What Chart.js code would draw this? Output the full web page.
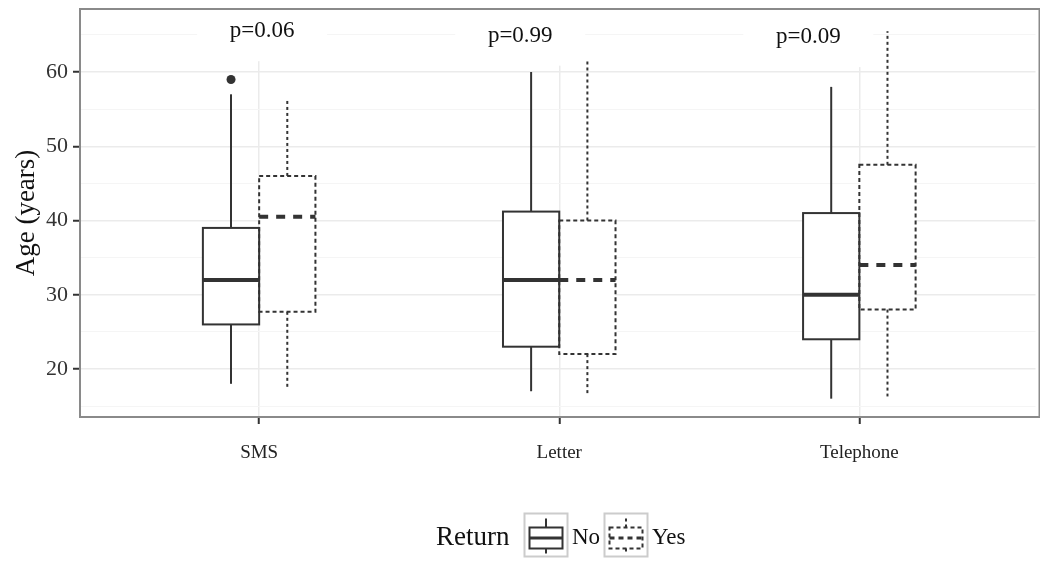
<!DOCTYPE html>
<html>
<head>
<meta charset="utf-8">
<script src="https://cdn.jsdelivr.net/npm/chart.js@4.4.0/dist/chart.umd.min.js"></script>
<style>
	html, body { margin: 0; padding: 0; background: #fff; overflow: hidden; }
	#wrap { width: 1040px; height: 564px; }
</style>
</head>
<body>
<div id="wrap"><canvas id="chart" width="1040" height="564"></canvas></div>
<script>
// Age by reminder type, split by whether the patient returned
const categories = ['SMS', 'Letter', 'Telephone'];
const groups = ['No', 'Yes'];

// Return = No
const noMin = [18, 17, 16];
const noQ1 = [26, 23, 24];
const noMedian = [32, 32, 30];
const noQ3 = [39, 41.2, 41];
const noMax = [57, 60, 58];
const noOutliers = [[59], [], []];

// Return = Yes
const yesMin = [17.2, 16.4, 16.3];
const yesQ1 = [27.7, 22, 28];
const yesMedian = [40.5, 32, 34];
const yesQ3 = [46, 40, 47.5];
const yesMax = [56.5, 61.8, 65.5];
const yesOutliers = [[], [], []];

const pLabels = ['p=0.06', 'p=0.99', 'p=0.09'];
const pLabelX = [1.01, 1.87, 2.83];
const pLabelY = [65.5, 64.9, 64.7];

const xTicks = [1, 2, 3];
const yTicks = [15, 20, 25, 30, 35, 40, 45, 50, 55, 60, 65];

(function(){
	const serif = "'Liberation Serif', 'Times New Roman', serif";
	const ink = '#333333';
	const dodge = 0.09375; // half of the dodged pair, in category units

	Chart.defaults.font.family = serif;

	const stats = [
		{ min: noMin, q1: noQ1, med: noMedian, q3: noQ3, max: noMax, dashed: false, shift: -dodge },
		{ min: yesMin, q1: yesQ1, med: yesMedian, q3: yesQ3, max: yesMax, dashed: true, shift: dodge }
	];

	const outlierPoints = [];
	[noOutliers, yesOutliers].forEach((set, g) => {
		set.forEach((vals, i) => vals.forEach(v => outlierPoints.push({ x: xTicks[i] + stats[g].shift, y: v })));
	});

	function line(ctx, x1, y1, x2, y2){
		ctx.beginPath(); ctx.moveTo(x1, y1); ctx.lineTo(x2, y2); ctx.stroke();
	}

	function drawBoxes(chart){
		const { ctx, scales: { x, y } } = chart;
		ctx.save();
		// white fills first so shared edges stay visible
		stats.forEach(s => {
			categories.forEach((_, i) => {
				const cx = xTicks[i] + s.shift;
				const l = x.getPixelForValue(cx - dodge), r = x.getPixelForValue(cx + dodge);
				const top = y.getPixelForValue(s.q3[i]), bot = y.getPixelForValue(s.q1[i]);
				ctx.fillStyle = '#fff';
				ctx.fillRect(l, top, r - l, bot - top);
			});
		});
		ctx.strokeStyle = ink;
		stats.forEach(s => {
			categories.forEach((_, i) => {
				const cx = xTicks[i] + s.shift;
				const l = x.getPixelForValue(cx - dodge), r = x.getPixelForValue(cx + dodge), m = x.getPixelForValue(cx);
				const yMin = y.getPixelForValue(s.min[i]), yQ1 = y.getPixelForValue(s.q1[i]);
				const yMed = y.getPixelForValue(s.med[i]), yQ3 = y.getPixelForValue(s.q3[i]);
				const yMax = y.getPixelForValue(s.max[i]);
				ctx.lineWidth = 2;
				ctx.setLineDash(s.dashed ? [3, 3] : []);
				line(ctx, m, yQ3, m, yMax);
				line(ctx, m, yQ1, m, yMin);
				ctx.setLineDash(s.dashed ? [4, 3] : []);
				ctx.strokeRect(l, yQ3, r - l, yQ1 - yQ3);
				ctx.lineWidth = 4;
				ctx.setLineDash(s.dashed ? [9, 8] : []);
				line(ctx, l, yMed, r, yMed);
			});
		});
		ctx.restore();
	}

	function drawPLabels(chart){
		const { ctx, chartArea: a, scales: { x, y } } = chart;
		ctx.save();
		ctx.beginPath(); ctx.rect(a.left, a.top, a.right - a.left, a.bottom - a.top); ctx.clip();
		ctx.font = `23px ${serif}`;
		ctx.textAlign = 'center';
		ctx.textBaseline = 'middle';
		pLabels.forEach((t, i) => {
			const px = x.getPixelForValue(pLabelX[i]), py = y.getPixelForValue(pLabelY[i]);
			ctx.fillStyle = '#fff';
			ctx.fillRect(px - 65, py - 30, 130, 60);
			ctx.fillStyle = '#111';
			ctx.fillText(t, px, py);
		});
		ctx.restore();
	}

	function legendKey(ctx, left, top, dashed){
		ctx.save();
		ctx.strokeStyle = '#cccccc'; ctx.lineWidth = 2; ctx.setLineDash([]);
		ctx.strokeRect(left, top, 43, 43);
		ctx.strokeStyle = ink; ctx.lineWidth = 2;
		const m = left + 21.5;
		ctx.setLineDash(dashed ? [3, 3] : []);
		line(ctx, m, top + 5, m, top + 14);
		line(ctx, m, top + 35, m, top + 40);
		ctx.setLineDash(dashed ? [4, 3] : []);
		ctx.strokeRect(left + 5, top + 14, 33, 21);
		ctx.lineWidth = 3;
		ctx.setLineDash(dashed ? [5, 4] : []);
		line(ctx, left + 5, top + 24.5, left + 38, top + 24.5);
		ctx.restore();
	}

	function drawLegend(chart){
		const ctx = chart.ctx;
		ctx.save();
		ctx.fillStyle = '#111';
		ctx.textBaseline = 'middle';
		ctx.textAlign = 'left';
		ctx.font = `27px ${serif}`;
		ctx.fillText('Return', 436, 538);
		legendKey(ctx, 524.5, 513.5, false);
		ctx.font = `23px ${serif}`;
		ctx.fillText(groups[0], 572, 538);
		legendKey(ctx, 604.5, 513.5, true);
		ctx.fillText(groups[1], 652, 538);
		ctx.restore();
	}

	const boxPlugin = {
		id: 'boxes',
		beforeDatasetsDraw(chart){ drawPLabels(chart); drawBoxes(chart); },
		afterDraw(chart){
			const { ctx, chartArea: a } = chart;
			ctx.save();
			ctx.strokeStyle = '#8a8a8a'; ctx.lineWidth = 2;
			ctx.strokeRect(a.left, a.top, a.right - a.left + 4, a.bottom - a.top);
			ctx.restore();
			drawLegend(chart);
		}
	};

	new Chart(document.getElementById('chart'), {
		type: 'scatter',
		data: {
			datasets: [{
				label: 'Outliers',
				data: outlierPoints,
				pointRadius: 4.5,
				pointBackgroundColor: ink,
				pointBorderWidth: 0
			}]
		},
		options: {
			responsive: false,
			animation: false,
			devicePixelRatio: 1,
			layout: { padding: { top: 9, left: 0, right: 0, bottom: 0 } },
			plugins: { legend: { display: false }, tooltip: { enabled: false } },
			scales: {
				x: {
					type: 'linear', min: 0.403, max: 3.587,
					afterBuildTicks: (s) => { s.ticks = xTicks.map(v => ({ value: v })); },
					afterFit: (s) => { s.height = 147; s.paddingLeft = 0; s.paddingRight = 0; },
					border: { display: false },
					grid: { color: '#ebebeb', lineWidth: 1.5, tickLength: 7, tickWidth: 2, tickColor: ink },
					ticks: {
						autoSkip: false, maxRotation: 0, padding: 18, color: '#222',
						font: { size: 19 },
						callback: (v) => categories[Math.round(v) - 1]
					}
				},
				y: {
					type: 'linear', min: 13.53, max: 68.49,
					afterBuildTicks: (s) => { s.ticks = yTicks.map(v => ({ value: v })); },
					afterFit: (s) => { s.width = 80; s.paddingTop = 0; s.paddingBottom = 0; },
					border: { display: false },
					grid: {
						color: (c) => c.tick && c.tick.value % 10 === 0 ? '#ebebeb' : '#f5f5f5',
						lineWidth: (c) => c.tick && c.tick.value % 10 === 0 ? 1.5 : 1,
						tickLength: 7, tickWidth: 2,
						tickColor: (c) => c.tick && c.tick.value % 10 === 0 ? ink : 'rgba(0,0,0,0)'
					},
					ticks: {
						autoSkip: false, padding: 5, color: '#333',
						font: { size: 22 },
						callback: (v) => v % 10 === 0 ? v : ''
					},
					title: {
						display: true, text: 'Age (years)', color: '#111',
						font: { size: 27 }, padding: { top: 11, bottom: 0 }
					}
				}
			}
		},
		plugins: [boxPlugin]
	});
})();
</script>
</body>
</html>
